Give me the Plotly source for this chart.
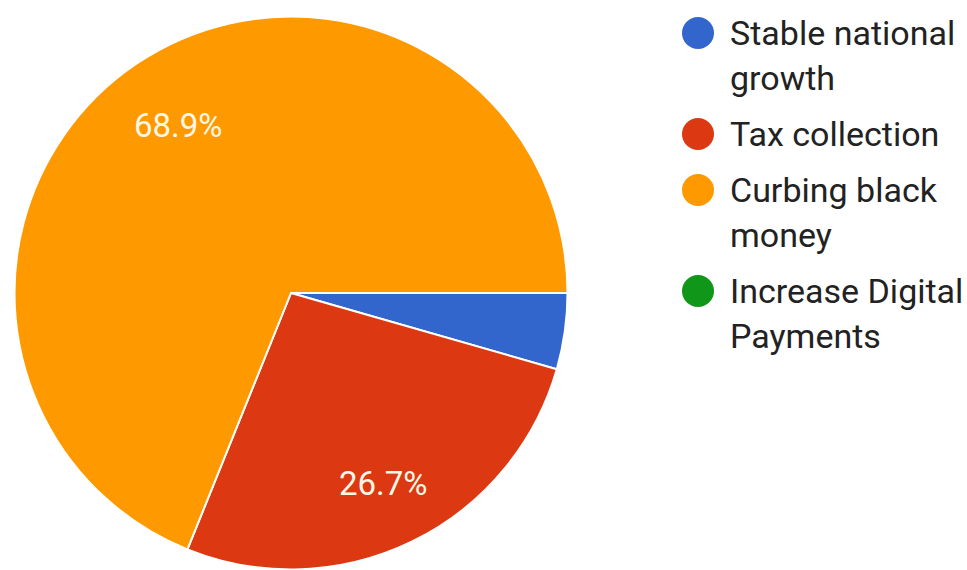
import math
import plotly.graph_objects as go

# Survey responses (45 in total)
categories = ["Stable national growth", "Tax collection", "Curbing black money", "Increase Digital Payments"]
responses = [2, 12, 31, 0]
colors = ["#3366cc", "#dc3912", "#ff9900", "#109618"]
# slices too small to carry a readable label get none
show_label = [False, True, True, False]
# how far out along each slice's bisector its label sits (fraction of radius)
label_radius = [0.0, 0.765, 0.73, 0.0]

W, H = 967, 570
FONT = "Roboto, Arial, sans-serif"
START = 90  # first slice begins at 3 o'clock, running clockwise

# pie geometry in pixels
left, right, top = 14.5, 567.5, 16.5
R = (right - left) / 2
cx, cy = (left + right) / 2, top + R

fig = go.Figure()
fig.add_trace(go.Pie(
    labels=categories,
    values=responses,
    marker=dict(colors=colors, line=dict(color="white", width=2)),
    sort=False,
    direction="clockwise",
    rotation=START,
    textinfo="none",
    showlegend=False,
    hoverinfo="label+percent",
    domain=dict(x=[left / W, right / W], y=[1 - (top + 2 * R) / H, 1 - top / H]),
))

annotations = []

# percentage labels placed on each slice's bisector
total = sum(responses)
cum = 0
for v, show, f in zip(responses, show_label, label_radius):
    mid = START + (cum + v / 2) / total * 360
    cum += v
    if not show:
        continue
    a = math.radians(mid)
    px = cx + f * R * math.sin(a)
    py = cy - f * R * math.cos(a)
    annotations.append(dict(text=f"{v / total:.1%}", xref="paper", yref="paper",
                            x=px / W, y=1 - py / H, xanchor="center", yanchor="middle",
                            showarrow=False,
                            font=dict(family=FONT, size=33, color="#fff8e6")))

# Legend drawn as round swatches with wrapped labels
legend_lines = [["Stable national", "growth"], ["Tax collection"], ["Curbing black", "money"],
                ["Increase Digital", "Payments"]]
swatch_x, text_x, r = 698, 728, 16
line_gap, item_gap = 45, 56
y = 33
shapes = []
for lines, c in zip(legend_lines, colors):
    shapes.append(dict(type="circle", xref="paper", yref="paper",
                       x0=(swatch_x - r) / W, x1=(swatch_x + r) / W,
                       y0=1 - (y + r) / H, y1=1 - (y - r) / H,
                       fillcolor=c, line=dict(width=0)))
    for i, t in enumerate(lines):
        annotations.append(dict(text=t, xref="paper", yref="paper",
                                x=text_x / W, y=1 - (y + i * line_gap) / H,
                                xanchor="left", yanchor="middle", showarrow=False,
                                font=dict(family=FONT, size=34, color="#222222")))
    y += (len(lines) - 1) * line_gap + item_gap

fig.update_layout(
    width=W, height=H,
    margin=dict(l=0, r=0, t=0, b=0),
    paper_bgcolor="white",
    plot_bgcolor="white",
    shapes=shapes,
    annotations=annotations,
)

fig.write_html("out.html")
